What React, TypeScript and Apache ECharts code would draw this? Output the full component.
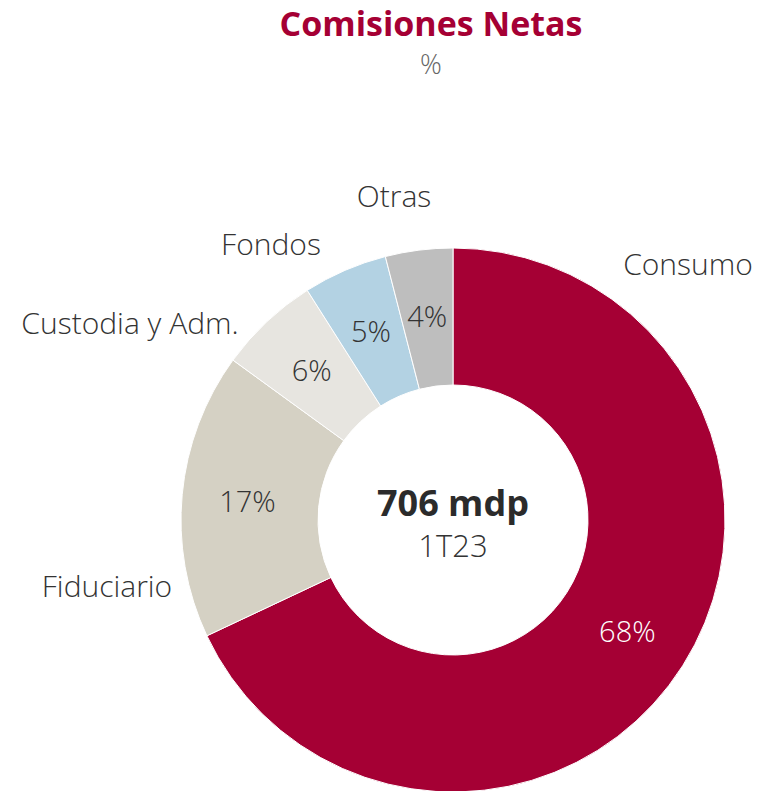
import React, { useEffect, useRef } from "react";
import * as echarts from "echarts";

const titleText = "Comisiones Netas";
const unitText = "%";
const categories = ["Consumo", "Fiduciario", "Custodia y Adm.", "Fondos", "Otras"];
const values = [68, 17, 6, 5, 4];
const colors = ["#A50034", "#D5D1C4", "#E7E5E0", "#B3D2E3", "#BEBEBE"];
const labelPos: [number, number][] = [
  [688, 263],
  [107, 585],
  [130, 322],
  [271, 243],
  [394, 195],
];
const totalText = "706 mdp";
const periodText = "1T23";

const FONT = "'Open Sans', Lato, sans-serif";

function txt(text: string, x: number, y: number, font: string, fill: string) {
  return {
    type: "text",
    x,
    y,
    style: { text, fill, font, textAlign: "center", textVerticalAlign: "middle" },
  };
}

export default function App() {
  const ref = useRef<HTMLDivElement>(null);
  useEffect(() => {
    if (!ref.current) return;
    const chart = echarts.init(ref.current, null, { renderer: "svg" });
    chart.setOption({
      animation: false,
      backgroundColor: "#fff",
      series: [
        {
          type: "pie",
          center: [453, 520],
          radius: [135, 272],
          startAngle: 90,
          clockwise: true,
          silent: true,
          label: {
            show: true,
            position: "inside",
            formatter: "{c}%",
            fontSize: 29,
            fontWeight: 300,
            fontFamily: FONT,
            color: "#333",
          },
          labelLine: { show: false },
          itemStyle: { borderColor: "#fff", borderWidth: 1 },
          data: categories.map((n, i) => ({
            name: n,
            value: values[i],
            itemStyle: { color: colors[i] },
            label: i === 0 ? { color: "#fff" } : {},
          })),
        },
      ],
      graphic: [
        txt(titleText, 431, 23, `bold 34px ${FONT}`, "#A50034"),
        txt(unitText, 431, 63, `300 27px ${FONT}`, "#666"),
        ...categories.map((n, i) =>
          txt(n, labelPos[i][0], labelPos[i][1], `300 30px ${FONT}`, "#333")
        ),
        txt(totalText, 453, 502, `bold 36px ${FONT}`, "#2b2b2b"),
        txt(periodText, 453, 545, `300 31px ${FONT}`, "#333"),
      ],
    });
    return () => chart.dispose();
  }, []);
  return (
    <div
      ref={ref}
      style={{ position: "fixed", left: 0, top: 0, width: 761, height: 791 }}
    />
  );
}
